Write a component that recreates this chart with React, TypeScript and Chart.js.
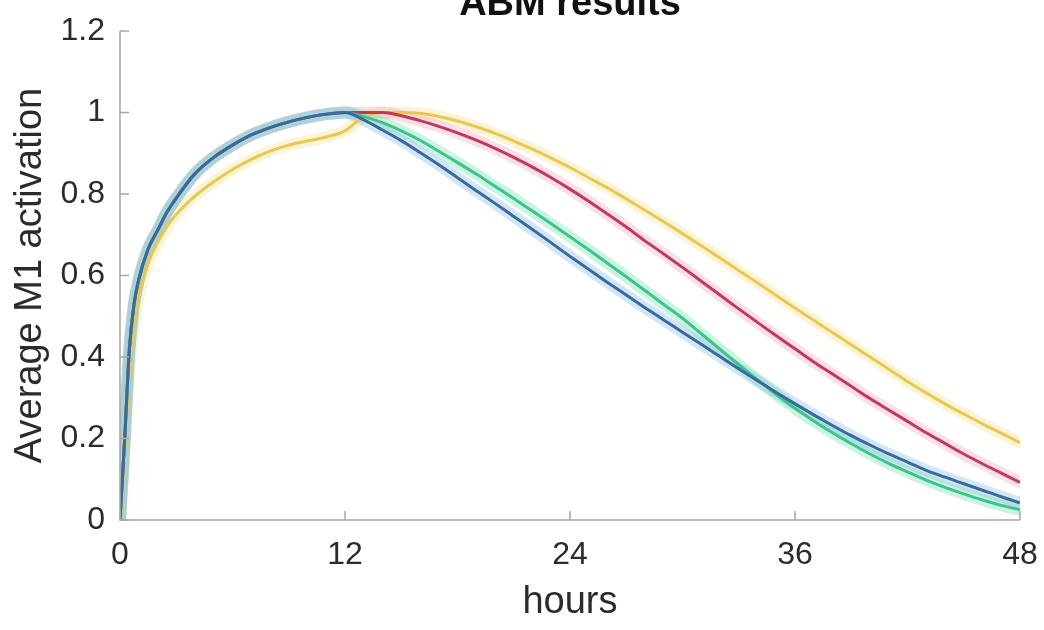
import React, { useEffect, useRef } from "react";
import { Chart, registerables } from "chart.js";
Chart.register(...registerables);

const TITLE = "ABM results";
const X_LABEL = "hours";
const Y_LABEL = "Average M1 activation";
const xTicks = [0, 12, 24, 36, 48];
const yTicks = [0, 0.2, 0.4, 0.6, 0.8, 1, 1.2];

const hours = [0, 0.25, 0.5, 0.75, 1, 1.5, 2, 2.5, 3,
  4, 5, 6, 7, 8, 9, 10, 11, 12, 13, 14, 15, 16, 17, 18, 19, 20, 21, 22, 23, 24,
  25, 26, 27, 28, 29, 30, 31, 32, 33, 34, 35, 36, 37, 38, 39, 40, 41, 42, 43, 44, 45, 46, 47, 48];

const blue = [0, 0.2, 0.42, 0.53, 0.59, 0.665, 0.71, 0.755, 0.79,
  0.85, 0.89, 0.92, 0.945, 0.963, 0.977, 0.988, 0.996, 1.0, 0.982, 0.957, 0.931, 0.902, 0.872, 0.84, 0.808, 0.777, 0.745, 0.713, 0.68, 0.647,
  0.615, 0.583, 0.552, 0.521, 0.491, 0.461, 0.431, 0.401, 0.371, 0.342, 0.313, 0.285, 0.258, 0.232, 0.207, 0.184, 0.162, 0.142, 0.122, 0.105, 0.089, 0.073, 0.057, 0.042];

const green = [0, 0.2, 0.42, 0.53, 0.59, 0.665, 0.71, 0.755, 0.79,
  0.85, 0.89, 0.92, 0.945, 0.963, 0.977, 0.988, 0.996, 1.0, 0.99, 0.975, 0.955, 0.932, 0.905, 0.877, 0.849, 0.819, 0.789, 0.758, 0.727, 0.695,
  0.663, 0.63, 0.597, 0.563, 0.529, 0.495, 0.457, 0.419, 0.381, 0.344, 0.308, 0.274, 0.243, 0.214, 0.187, 0.162, 0.139, 0.118, 0.098, 0.08, 0.064, 0.049, 0.036, 0.025];

const red = [0, 0.2, 0.42, 0.53, 0.59, 0.665, 0.71, 0.755, 0.79,
  0.85, 0.89, 0.92, 0.945, 0.963, 0.977, 0.988, 0.996, 1.0, 1.0, 1.0, 0.992, 0.98, 0.966, 0.95, 0.932, 0.912, 0.89, 0.866, 0.84, 0.812,
  0.782, 0.751, 0.719, 0.685, 0.653, 0.62, 0.586, 0.552, 0.518, 0.485, 0.452, 0.42, 0.388, 0.358, 0.328, 0.298, 0.27, 0.242, 0.214, 0.188, 0.162, 0.138, 0.115, 0.092];

const yellow = [0, 0.17, 0.37, 0.48, 0.55, 0.63, 0.68, 0.72, 0.75,
  0.795, 0.83, 0.86, 0.885, 0.905, 0.92, 0.93, 0.94, 0.955, 0.99, 1.0, 1.0, 0.998, 0.99, 0.979, 0.965, 0.949, 0.93, 0.91, 0.888, 0.865,
  0.84, 0.815, 0.788, 0.76, 0.732, 0.703, 0.673, 0.643, 0.612, 0.582, 0.551, 0.52, 0.49, 0.46, 0.43, 0.4, 0.37, 0.34, 0.312, 0.285, 0.26, 0.236, 0.213, 0.19];

const FONT = '"Liberation Sans", Arial, Helvetica, sans-serif';
const AXIS_COLOR = "#a6a6a6";
const TEXT_COLOR = "#2b2b2b";

const series = [
  { name: "blue", values: blue, line: "#3a6a9c", band: "rgba(125,185,230,0.35)", order: 1 },
  { name: "green", values: green, line: "#3cc48c", band: "rgba(110,220,170,0.35)", order: 2 },
  { name: "red", values: red, line: "#c2395f", band: "rgba(240,160,190,0.35)", order: 3 },
  { name: "yellow", values: yellow, line: "#e8c84e", band: "rgba(246,220,120,0.3)", order: 4 },
];

const overlay = {
  id: "overlay",
  afterDatasetsDraw(chart: any) {
    const { ctx, chartArea, scales } = chart;
    const x = scales.x;
    const y = scales.y;
    ctx.save();
    ctx.strokeStyle = AXIS_COLOR;
    ctx.lineWidth = 1.5;
    ctx.beginPath();
    ctx.moveTo(chartArea.left, chartArea.top);
    ctx.lineTo(chartArea.left, chartArea.bottom);
    ctx.lineTo(chartArea.right, chartArea.bottom);
    ctx.stroke();
    ctx.beginPath();
    x.ticks.forEach((t: any) => {
      const px = x.getPixelForValue(t.value);
      ctx.moveTo(px, chartArea.bottom);
      ctx.lineTo(px, chartArea.bottom - 9);
    });
    y.ticks.forEach((t: any) => {
      const py = y.getPixelForValue(t.value);
      ctx.moveTo(chartArea.left, py);
      ctx.lineTo(chartArea.left + 9, py);
    });
    ctx.stroke();
    ctx.fillStyle = "#111";
    ctx.font = `bold 38px ${FONT}`;
    ctx.textAlign = "center";
    ctx.textBaseline = "alphabetic";
    ctx.fillText(TITLE, (chartArea.left + chartArea.right) / 2, 15);
    ctx.restore();
  },
};

export default function App() {
  const ref = useRef<HTMLCanvasElement>(null);
  useEffect(() => {
    const canvas = ref.current!;
    const datasets: any[] = [];
    series.forEach((s) => {
      const pts = hours.map((h, i) => ({ x: h, y: s.values[i] }));
      datasets.push({
        label: s.name + " band",
        data: pts,
        borderColor: s.band,
        borderWidth: 12,
        pointRadius: 0,
        fill: false,
        cubicInterpolationMode: "monotone",
        borderCapStyle: "round",
        borderJoinStyle: "round",
        order: 10 + s.order,
      });
      datasets.push({
        label: s.name,
        data: pts,
        borderColor: s.line,
        borderWidth: 3,
        pointRadius: 0,
        fill: false,
        cubicInterpolationMode: "monotone",
        borderJoinStyle: "round",
        order: s.order,
      });
    });
    const chart = new Chart(canvas, {
      type: "line",
      data: { datasets },
      plugins: [overlay],
      options: {
        animation: false,
        responsive: true,
        maintainAspectRatio: false,
        layout: { padding: { left: 0, right: 24, top: 31, bottom: 0 } },
        plugins: { legend: { display: false }, tooltip: { enabled: false }, title: { display: false } },
        scales: {
          x: {
            type: "linear",
            min: 0,
            max: 48,
            afterBuildTicks: (s: any) => { s.ticks = xTicks.map((v) => ({ value: v })); },
            afterFit: (s: any) => { s.height = 110; s.paddingLeft = 0; s.paddingRight = 0; },
            grid: { display: false, drawTicks: false },
            border: { display: false },
            ticks: { color: TEXT_COLOR, font: { family: FONT, size: 32 }, padding: 16, maxRotation: 0, callback: (v: any) => String(v) },
            title: { display: true, text: X_LABEL, color: TEXT_COLOR, font: { family: FONT, size: 38 }, padding: { top: 0, bottom: 5 } },
          },
          y: {
            type: "linear",
            min: 0,
            max: 1.2,
            afterBuildTicks: (s: any) => { s.ticks = yTicks.map((v) => ({ value: v })); },
            afterFit: (s: any) => { s.width = 120; s.paddingTop = 0; s.paddingBottom = 0; },
            grid: { display: false, drawTicks: false },
            border: { display: false },
            ticks: { color: TEXT_COLOR, font: { family: FONT, size: 32 }, padding: 15, callback: (v: any) => String(Number(Number(v).toFixed(1))) },
            title: { display: true, text: Y_LABEL, color: TEXT_COLOR, font: { family: FONT, size: 38 }, padding: { top: 8, bottom: 0 } },
          },
        },
      },
    });
    return () => chart.destroy();
  }, []);
  return (
    <div style={{ position: "fixed", left: 0, top: 0, width: 1044, height: 630, background: "#fff" }}>
      <canvas ref={ref} />
    </div>
  );
}
